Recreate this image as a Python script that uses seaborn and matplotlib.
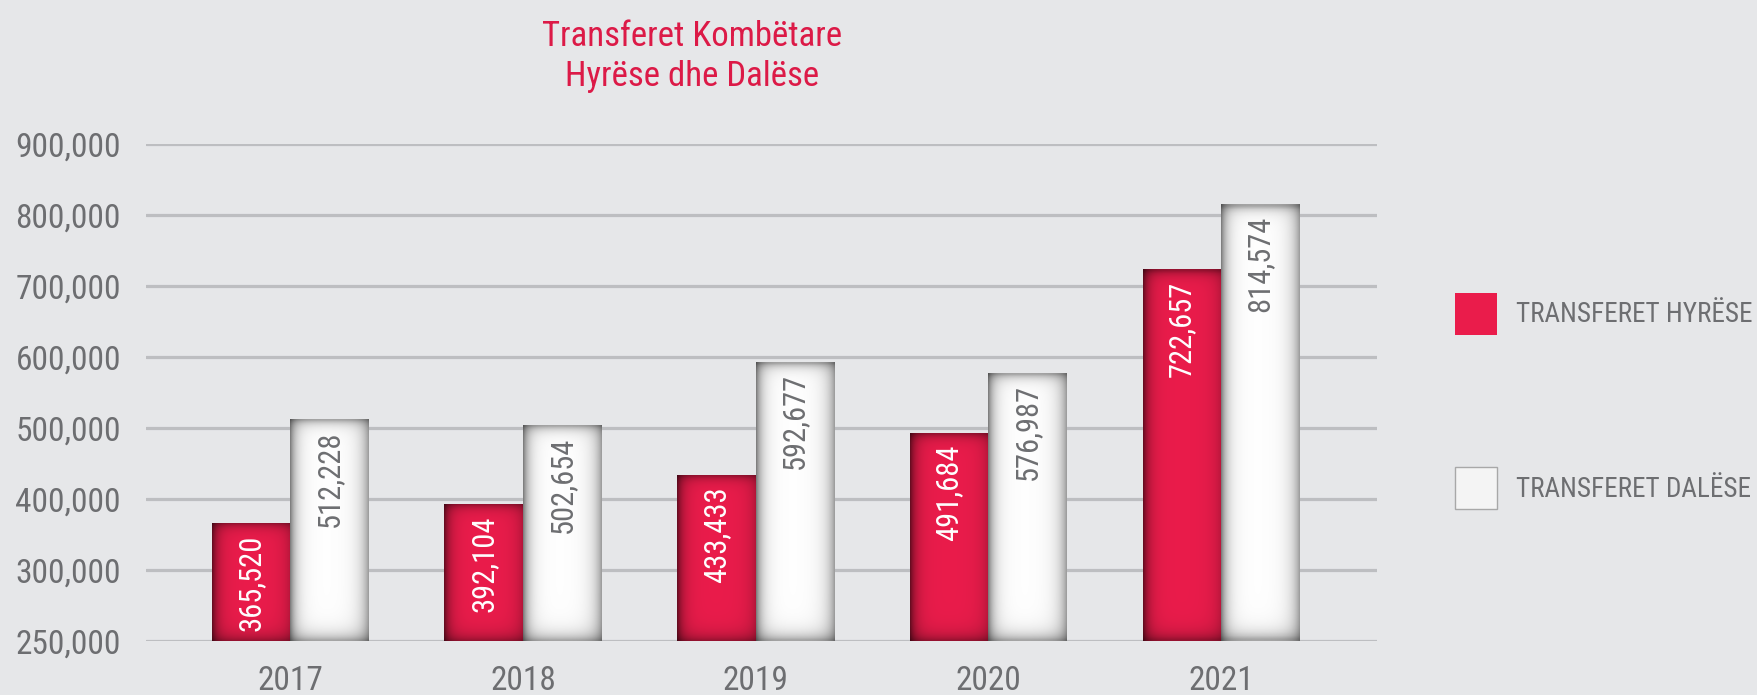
import numpy as np
import pandas as pd
import matplotlib
matplotlib.use("Agg")
import matplotlib.pyplot as plt
import matplotlib.colors as mcolors
from matplotlib import font_manager
from matplotlib.patches import Patch
import seaborn as sns

# Chart data
years = ["2017", "2018", "2019", "2020", "2021"]
hyrese = [365520, 392104, 433433, 491684, 722657]
dalese = [512228, 502654, 592677, 576987, 814574]
series_names = ["TRANSFERET HYRËSE", "TRANSFERET DALËSE"]
ytick_values = [200000, 300000, 400000, 500000, 600000, 700000, 800000, 900000]
ytick_labels = ["250,000", "300,000", "400,000", "500,000",
                "600,000", "700,000", "800,000", "900,000"]
title_text = "Transferet Kombëtare\nHyrëse dhe Dalëse"

BG = "#e6e7e9"
RED = "#ea1c4b"
WHITE = "#ffffff"
GREY_TEXT = "#6d6e71"
GRID = "#bdbec1"
TITLE_RED = "#dc1a47"


def pick_font():
    names = {f.name for f in font_manager.fontManager.ttflist}
    for name in ["Liberation Sans Narrow", "Roboto Condensed", "DejaVu Sans Condensed",
                 "Open Sans Condensed", "Liberation Sans"]:
        if name in names:
            return name
    return "DejaVu Sans"


def shade_bar(ax, patch, base_hex, left, right, ybot):
    # Overlay a soft gradient so bars look like the rounded columns
    x0, w = patch.get_x(), patch.get_width()
    top = patch.get_y() + patch.get_height()
    nx, ny = 80, 120
    u = np.linspace(0, 1, nx)
    ys = np.linspace(ybot, top, ny)
    fx = 1 - left * np.exp(-u / 0.08) - right * np.exp(-(1 - u) / 0.1)
    fy = 1 - 0.35 * np.exp(-(top - ys) / 7000) - 0.35 * np.exp(-(ys - ybot) / 10000)
    base = np.array(mcolors.to_rgb(base_hex))
    img = base[None, None, :] * (fy[:, None, None] * fx[None, :, None])
    ax.imshow(np.clip(img, 0, 1), extent=[x0, x0 + w, ybot, top], origin="lower",
              aspect="auto", interpolation="bilinear", zorder=3)


def main():
    sns.set_theme(style="white")
    font = pick_font()
    plt.rcParams["font.family"] = [font, "DejaVu Sans"]

    data = pd.DataFrame({
        "Year": years * 2,
        "Series": [series_names[0]] * len(years) + [series_names[1]] * len(years),
        "Value": hyrese + dalese,
    })

    fig = plt.figure(figsize=(17.58, 6.95), dpi=100, facecolor=BG)
    ax = fig.add_axes([146 / 1758, 1 - 641 / 695, (1377 - 146) / 1758, (641 - 143.7) / 695])
    ax.set_facecolor(BG)

    sns.barplot(data=data, x="Year", y="Value", hue="Series",
                palette=[RED, WHITE], width=0.675, ax=ax, legend=False,
                saturation=1, linewidth=0, zorder=2)

    ybot = ytick_values[0]
    xlim = (-0.62, 4.67)
    ylim = (ybot, ytick_values[-1])

    for i, container in enumerate(ax.containers):
        vals = hyrese if i == 0 else dalese
        for patch, v in zip(container.patches, vals):
            if i == 0:
                shade_bar(ax, patch, RED, 0.55, 0.22, ybot)
                color = "white"
            else:
                shade_bar(ax, patch, WHITE, 0.5, 0.38, ybot)
                color = GREY_TEXT
            ax.annotate(f"{v:,}", (patch.get_x() + patch.get_width() / 2, v),
                        xytext=(0, -8), textcoords="offset points",
                        rotation=90, ha="center", va="top",
                        fontsize=22, color=color, zorder=4)

    ax.set_xlim(*xlim)
    ax.set_ylim(*ylim)

    # Gridlines
    for yv in ytick_values:
        ax.axhline(yv, color=GRID, lw=2.3, zorder=1)
    ax.set_yticks(ytick_values)
    ax.set_yticklabels(ytick_labels)
    ax.tick_params(axis="y", length=0, pad=18, labelsize=24, labelcolor=GREY_TEXT)
    ax.tick_params(axis="x", length=0, pad=17, labelsize=24, labelcolor=GREY_TEXT)
    ax.set_xlabel("")
    ax.set_ylabel("")
    ax.grid(False)
    for s in ax.spines.values():
        s.set_visible(False)

    # Title
    fig.text(692 / 1758, 1 - 56.5 / 695, title_text, ha="center", va="center",
             fontsize=25, color=TITLE_RED, linespacing=1.25)

    # Legend
    handles = [Patch(facecolor=RED, edgecolor="none"),
               Patch(facecolor="#f4f4f4", edgecolor="#a8a8a8", linewidth=1)]
    fig.legend(handles, series_names, loc="center left",
               bbox_to_anchor=(1455 / 1758, 1 - 401 / 695), frameon=False,
               fontsize=19.5, labelcolor=GREY_TEXT, handlelength=1.55, handleheight=2.0,
               handletextpad=0.7, labelspacing=4.9, borderaxespad=0, borderpad=0)

    fig.savefig("out.png", dpi=100, facecolor=BG)


if __name__ == "__main__":
    main()
